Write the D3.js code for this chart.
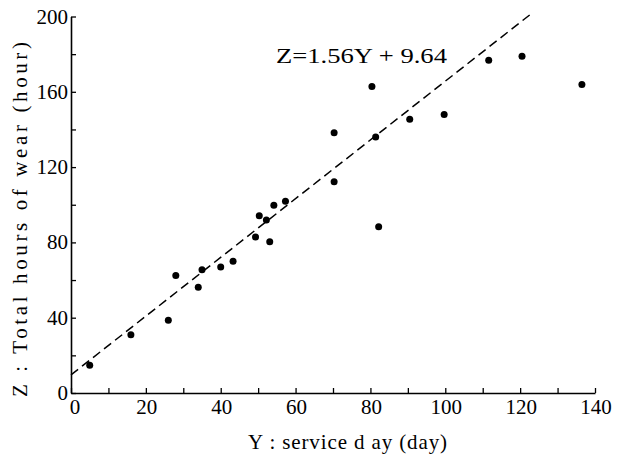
<!DOCTYPE html>
<html>
<head>
<meta charset="utf-8">
<script src="https://cdn.jsdelivr.net/npm/d3@7"></script>
<style>
  html, body { margin: 0; padding: 0; background: #fff; }
  svg { display: block; }
</style>
</head>
<body>
<svg id="chart" width="622" height="454"></svg>
<script>
// Data: Y = service day (day), Z = total hours of wear (hour)
const serviceDay = [5, 16, 26, 28, 34, 35, 40, 43.3, 49.3, 50.3, 52.2, 53.1, 54.2, 57.3, 70.3, 70.3, 80.4, 81.4, 82.2, 90.5, 99.7, 111.6, 120.5, 136.5];
const wearHours  = [14.8, 30.9, 38.6, 62.4, 56.2, 65.5, 66.9, 70, 82.9, 94.2, 91.9, 80.4, 99.7, 101.9, 112.2, 138.2, 162.8, 136, 88.3, 145.4, 147.9, 176.7, 178.9, 163.9];
const fitSlope = 1.56;
const fitIntercept = 9.64;
const fitRange = [0, 123.6];
const xTicksMajor = [0, 20, 40, 60, 80, 100, 120, 140];
const xTicksMinor = [0, 10, 20, 30, 40, 50, 60, 70, 80, 90, 100, 110, 120, 130, 140];
const yTicksMajor = [0, 40, 80, 120, 160, 200];
const yTicksMinor = [0, 20, 40, 60, 80, 100, 120, 140, 160, 180, 200];
const xTitle = "Y : service d ay (day)";
const yTitle = "Z : Total hours of wear (hour)";
const eqText = "Z=1.56Y + 9.64";

const FONT = "'Liberation Serif', 'DejaVu Serif', serif";
const svg = d3.select("#chart");
const x = d3.scaleLinear().domain([0, 140]).range([71, 595]);
const y = d3.scaleLinear().domain([0, 200]).range([393, 16.5]);

// X axis
const gx = svg.append("g").attr("transform", `translate(0,${y(0)})`);
gx.call(d3.axisBottom(x).tickValues(xTicksMinor).tickSizeInner(-5).tickSizeOuter(0).tickFormat(""));
gx.select(".domain").attr("stroke-width", 1.6);
gx.selectAll(".tick line").attr("stroke-width", 1.3);
svg.append("g").selectAll("text").data(xTicksMajor).join("text")
  .attr("x", d => x(d) + (d === 0 ? 4 : 1))
  .attr("y", y(0) + 21)
  .attr("text-anchor", "middle")
  .style("font-family", FONT)
  .style("font-size", "21px")
  .text(d => d);

// Y axis
const gy = svg.append("g").attr("transform", `translate(${x(0)},0)`);
gy.call(d3.axisLeft(y).tickValues(yTicksMinor).tickSizeInner(-5).tickSizeOuter(0).tickFormat(""));
gy.select(".domain").attr("stroke-width", 1.6);
gy.selectAll(".tick line").attr("stroke-width", 1.3);
svg.append("g").selectAll("text").data(yTicksMajor).join("text")
  .attr("x", x(0) - 3)
  .attr("y", d => y(d) + 7)
  .attr("text-anchor", "end")
  .style("font-family", FONT)
  .style("font-size", "21px")
  .text(d => d);

// Fit line
svg.append("line")
  .attr("x1", x(fitRange[0])).attr("y1", y(fitSlope * fitRange[0] + fitIntercept))
  .attr("x2", x(fitRange[1])).attr("y2", y(fitSlope * fitRange[1] + fitIntercept))
  .attr("stroke", "#000").attr("stroke-width", 1.5)
  .attr("stroke-dasharray", "9,5");

// Points
svg.append("g").selectAll("circle").data(serviceDay.map((d, i) => [d, wearHours[i]])).join("circle")
  .attr("cx", d => x(d[0]))
  .attr("cy", d => y(d[1]))
  .attr("r", 3.5)
  .attr("fill", "#000");

// Equation
svg.append("text")
  .attr("x", 276).attr("y", 63)
  .style("font-family", FONT)
  .style("font-size", "21px")
  .attr("textLength", 171).attr("lengthAdjust", "spacingAndGlyphs")
  .text(eqText);

// Axis titles
svg.append("text")
  .attr("x", 248).attr("y", 449)
  .style("font-family", FONT)
  .style("font-size", "21px")
  .attr("textLength", 199).attr("lengthAdjust", "spacing")
  .text(xTitle);

svg.append("text")
  .attr("transform", "translate(27,397) rotate(-90)")
  .style("font-family", FONT)
  .style("font-size", "21px")
  .attr("textLength", 355).attr("lengthAdjust", "spacing")
  .text(yTitle);
</script>
</body>
</html>
